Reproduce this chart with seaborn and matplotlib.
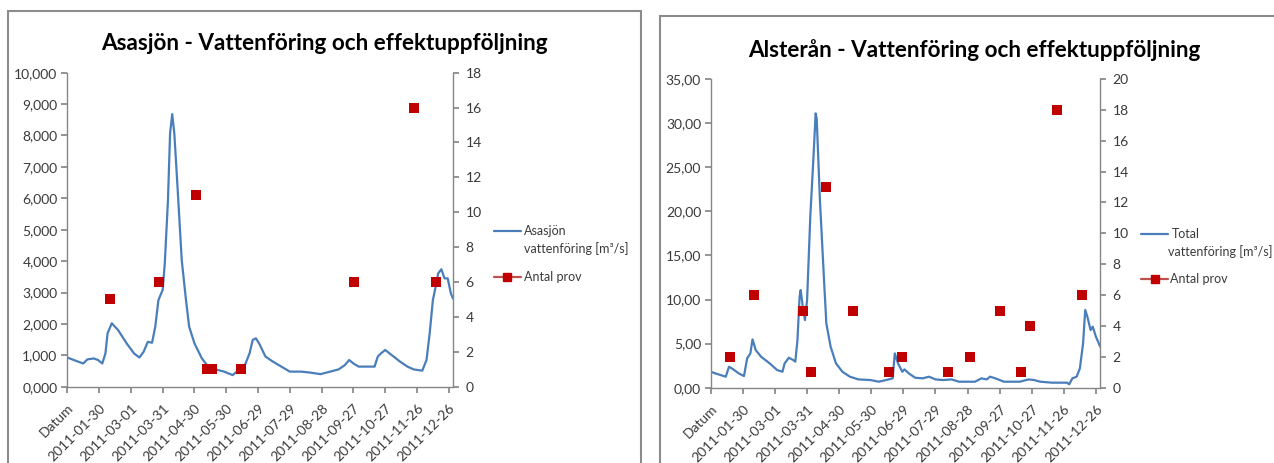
import matplotlib
matplotlib.use("Agg")
import matplotlib.pyplot as plt
import seaborn as sns
import pandas as pd
from matplotlib.lines import Line2D
from matplotlib.patches import Rectangle
from matplotlib import font_manager

# ---------------- data ----------------
tick_days = [0, 30, 60, 90, 120, 150, 180, 210, 240, 270, 300, 330, 360]
tick_labels = ["Datum", "2011-01-30", "2011-03-01", "2011-03-31", "2011-04-30",
               "2011-05-30", "2011-06-29", "2011-07-29", "2011-08-28",
               "2011-09-27", "2011-10-27", "2011-11-26", "2011-12-26"]

asa_day = [0, 10, 15, 19, 25, 29, 33, 36, 38, 42, 48, 56, 63, 68, 72, 76, 80, 83, 86, 90,
           92, 95, 97, 99, 101, 104, 108, 112, 115, 120, 127, 133, 140, 148, 156, 160, 167,
           172, 175, 178, 181, 187, 194, 202, 210, 221, 229, 239, 248, 256, 262, 266, 270,
           275, 283, 290, 293, 296, 300, 306, 314, 321, 327, 335, 339, 342, 345, 347, 350,
           353, 356, 359, 362, 364]
asa_flow = [0.93, 0.80, 0.74, 0.87, 0.90, 0.85, 0.74, 1.06, 1.70, 2.02, 1.80, 1.38, 1.06,
            0.93, 1.11, 1.43, 1.40, 1.91, 2.76, 3.08, 3.93, 5.94, 8.07, 8.68, 8.07, 6.37,
            4.03, 2.76, 1.91, 1.38, 0.90, 0.64, 0.55, 0.48, 0.37, 0.48, 0.64, 1.06, 1.49,
            1.54, 1.38, 0.96, 0.80, 0.64, 0.48, 0.48, 0.45, 0.40, 0.48, 0.55, 0.69, 0.85,
            0.74, 0.64, 0.64, 0.64, 0.96, 1.06, 1.17, 1.01, 0.80, 0.64, 0.55, 0.51, 0.85,
            1.70, 2.76, 3.08, 3.61, 3.74, 3.45, 3.45, 2.97, 2.81]
asa_sample_day = [40, 87, 121, 132, 137, 164, 271, 327, 348]
asa_samples = [5, 6, 11, 1, 1, 1, 6, 16, 6]

als_day = [0, 4, 9, 14, 17, 21, 26, 31, 34, 37, 39, 42, 47, 55, 62, 67, 69, 73, 77, 79,
           81, 83, 84, 86, 88, 90, 93, 96, 98, 99, 102, 106, 108, 112, 117, 123, 130, 138,
           149, 157, 164, 170, 172, 175, 179, 181, 185, 191, 198, 204, 210, 217, 225, 232,
           247, 253, 258, 261, 266, 274, 289, 297, 302, 308, 319, 333, 335, 338, 342, 345,
           348, 350, 352, 355, 357, 360, 364]
als_flow = [1.81, 1.63, 1.44, 1.25, 2.38, 2.08, 1.63, 1.32, 3.33, 3.89, 5.48, 4.27, 3.51,
            2.76, 2.00, 1.81, 2.76, 3.40, 3.14, 2.95, 5.40, 10.32, 11.07, 9.18, 7.67, 9.94,
            19.39, 26.19, 31.10, 30.5, 21.28, 11.83, 7.29, 4.65, 2.76, 1.81, 1.25, 0.94, 0.87,
            0.68, 0.87, 1.06, 3.89, 2.76, 1.81, 2.08, 1.63, 1.13, 1.06, 1.25, 0.94, 0.87,
            0.94, 0.68, 0.68, 1.06, 0.94, 1.25, 1.06, 0.68, 0.68, 0.94, 0.87, 0.68, 0.57,
            0.57, 0.38, 1.06, 1.25, 2.19, 5.03, 8.81, 8.05, 6.54, 6.92, 5.78, 4.65]
als_sample_day = [18, 40, 86, 94, 108, 133, 167, 179, 222, 242, 270, 290, 298, 324, 347]
als_samples = [2, 6, 5, 1, 13, 5, 1, 2, 1, 2, 5, 1, 4, 18, 6]

# ---------------- style ----------------
sns.set_theme(style="white")
names = {f.name for f in font_manager.fontManager.ttflist}
FONT = "Liberation Sans Narrow" if "Liberation Sans Narrow" in names else "Lato"
plt.rcParams['font.family'] = [FONT, 'DejaVu Sans']

W, H = 1274, 463
BLUE = "#4A7EBB"
RED = "#C00000"
GRID = "#868686"
TXT = "#3a3a3a"

fig = plt.figure(figsize=(W / 100, H / 100), dpi=100)
fig.patch.set_facecolor("white")

# panel borders
fig.add_artist(Rectangle((8 / W, -0.05), (641 - 8) / W, 1 - 10.7 / H + 0.05,
                         transform=fig.transFigure, fill=False, edgecolor="#8c8c8c", lw=1.5))
fig.add_artist(Rectangle((660 / W, -0.05), (1280 - 660) / W, 1 - 16.3 / H + 0.05,
                         transform=fig.transFigure, fill=False, edgecolor="#8c8c8c", lw=1.5))


def fx(px):
    return px / W


def fy(py):
    return 1 - py / H


def panel(px_left, px_right, px_top, px_bottom, title, title_xy, day, flow, sday, sval,
          ymax, ystep, ydec, y2max, flow_lines, leg):
    ax = fig.add_axes([fx(px_left), fy(px_bottom), (px_right - px_left) / W,
                       (px_bottom - px_top) / H])
    df = pd.DataFrame({"day": day, "flow": flow})
    sns.lineplot(data=df, x="day", y="flow", ax=ax, color=BLUE, linewidth=1.6)
    ax.set_xlim(0, 364)
    ax.set_ylim(0, ymax)
    yt = [i * ystep for i in range(int(round(ymax / ystep)) + 1)]
    ax.set_yticks(yt)
    ax.set_yticklabels([f"{v:.{ydec}f}".replace(".", ",") for v in yt])
    ax.set_xticks(tick_days)
    ax.set_xticklabels(tick_labels, rotation=45, ha="right", rotation_mode="anchor")
    ax.set_xlabel("")
    ax.set_ylabel("")

    ax2 = ax.twinx()
    sdf = pd.DataFrame({"day": sday, "n": sval})
    sns.scatterplot(data=sdf, x="day", y="n", ax=ax2, marker="s", color=RED, s=62,
                    linewidth=0)
    ax2.set_ylim(0, y2max)
    ax2.set_yticks(list(range(0, y2max + 1, 2)))
    ax2.set_xlim(0, 364)
    ax2.set_ylabel("")

    for a in (ax, ax2):
        a.spines["top"].set_visible(False)
        for s in ("left", "right", "bottom"):
            a.spines[s].set_color(GRID)
            a.spines[s].set_linewidth(1.0)
        a.set_facecolor("none")
    ax2.spines["left"].set_visible(False)
    ax2.spines["bottom"].set_visible(False)
    ax.spines["right"].set_visible(False)
    ax.tick_params(axis="y", left=True, direction="out", length=4, color=GRID,
                   labelsize=10, labelcolor=TXT, pad=3)
    ax.tick_params(axis="x", bottom=True, direction="out", length=4, color=GRID,
                   labelsize=10, labelcolor=TXT, pad=7)
    ax2.tick_params(axis="y", right=True, direction="out", length=4, color=GRID,
                    labelsize=10, labelcolor=TXT, pad=5)

    fig.text(fx(title_xy[0]), fy(title_xy[1]), title, ha="center", va="center",
             fontsize=16.2, fontweight="bold", color="black")

    # legend (drawn in figure pixels)
    lx0, lx1, tx1, tx2, ty1, ty2, ty3, tx3 = leg
    fig.add_artist(Line2D([fx(lx0), fx(lx1)], [fy(ty1), fy(ty1)], color=BLUE, lw=1.6,
                          transform=fig.transFigure))
    fig.add_artist(Line2D([fx(lx0), fx(lx1)], [fy(ty3), fy(ty3)], color="#C0504D", lw=1.6,
                          transform=fig.transFigure))
    fig.add_artist(Line2D([fx((lx0 + lx1) / 2)], [fy(ty3)], color=RED, marker="s",
                          markersize=5.5, lw=0, transform=fig.transFigure))
    fig.text(fx(tx1), fy(ty1), flow_lines[0], ha="left", va="center", fontsize=9,
             color=TXT)
    fig.text(fx(tx2), fy(ty2), flow_lines[1], ha="left", va="center", fontsize=9,
             color=TXT)
    fig.text(fx(tx3), fy(ty3), "Antal prov", ha="left", va="center", fontsize=9,
             color=TXT)


panel(67.3, 453, 72.7, 386.7, "Asasjön - Vattenföring och effektuppföljning", (324.5, 43),
      asa_day, asa_flow, asa_sample_day, asa_samples, 10, 1, 3, 18,
      ["Asasjön", "vattenföring [m³/s]"], (494, 521, 524, 524, 231, 249, 277, 524))
panel(710.8, 1100.2, 79, 387.7, "Alsterån - Vattenföring och effektuppföljning", (974.6, 50),
      als_day, als_flow, als_sample_day, als_samples, 35, 5, 2, 20,
      ["Total", "vattenföring [m³/s]"], (1141, 1168, 1172, 1168, 234, 252, 279, 1170))

fig.savefig("out.png", dpi=100, facecolor="white")
